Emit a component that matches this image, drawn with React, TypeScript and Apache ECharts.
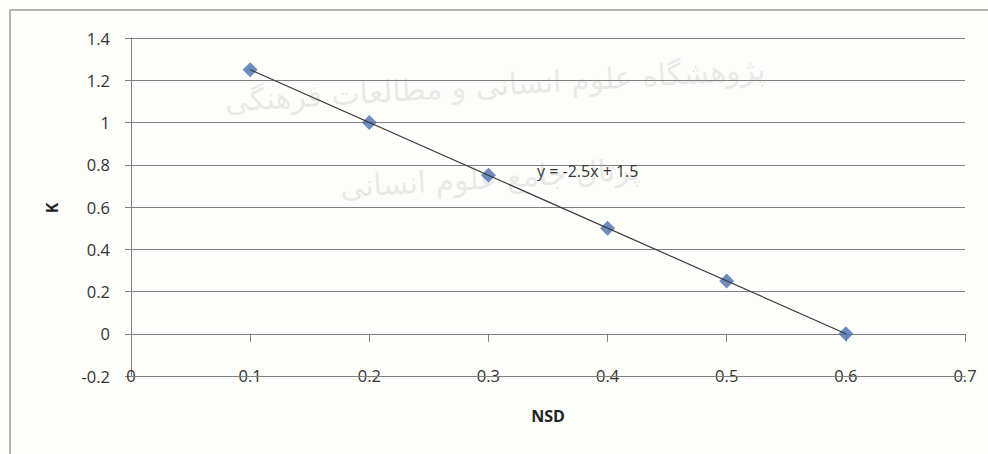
import React, { useEffect, useRef } from "react";
import * as echarts from "echarts";

const nsd = [0.1, 0.2, 0.3, 0.4, 0.5, 0.6];
const kValues = [1.25, 1.0, 0.75, 0.5, 0.25, 0.0];
const xTickLabels = ["0", "0.1", "0.2", "0.3", "0.4", "0.5", "0.6", "0.7"];
const yTickLabels = ["-0.2", "0", "0.2", "0.4", "0.6", "0.8", "1", "1.2", "1.4"];
const equationText = "y = -2.5x + 1.5";
const xTitle = "NSD";
const yTitle = "K";
const watermark1 = "پژوهشگاه علوم انسانی و مطالعات فرهنگی";
const watermark2 = "پرتال جامع علوم انسانی";

function regression(xs: number[], ys: number[]) {
  const n = xs.length;
  const mx = xs.reduce((a, b) => a + b, 0) / n;
  const my = ys.reduce((a, b) => a + b, 0) / n;
  let sxy = 0;
  let sxx = 0;
  for (let i = 0; i < n; i++) {
    sxy += (xs[i] - mx) * (ys[i] - my);
    sxx += (xs[i] - mx) * (xs[i] - mx);
  }
  const slope = sxy / sxx;
  return { slope, intercept: my - slope * mx };
}

export default function App() {
  const ref = useRef<HTMLDivElement>(null);
  useEffect(() => {
    if (!ref.current) return;
    const chart = echarts.init(ref.current, null, { renderer: "svg" });
    const { slope, intercept } = regression(nsd, kValues);
    const xMin = Math.min(...nsd);
    const xMax = Math.max(...nsd);
    const trend = [
      [xMin, slope * xMin + intercept],
      [xMax, slope * xMax + intercept],
    ];
    const font = "'Open Sans', 'Noto Sans', sans-serif";
    const gridColor = "#808080";
    const fmtX = (v: number) => {
      const i = Math.round(v * 10);
      return xTickLabels[i] ?? String(v);
    };
    const fmtY = (v: number) => {
      const i = Math.round((v + 0.2) * 5);
      return yTickLabels[i] ?? String(v);
    };
    chart.setOption({
      animation: false,
      backgroundColor: "#fdfdfb",
      grid: { left: 131, right: 23, top: 38, bottom: 78 },
      xAxis: [
        {
          type: "value",
          min: 0,
          max: 0.7,
          interval: 0.1,
          position: "bottom",
          axisLine: { show: true, onZero: false, lineStyle: { color: gridColor, width: 1 } },
          axisTick: { show: false },
          splitLine: { show: false },
          axisLabel: {
            margin: -9,
            fontSize: 16.5,
            color: "#333",
            fontFamily: font,
            formatter: fmtX,
            showMinLabel: true,
            showMaxLabel: true,
          },
        },
        {
          type: "value",
          min: 0,
          max: 0.7,
          interval: 0.1,
          position: "bottom",
          axisLine: {
            show: true,
            onZero: true,
            lineStyle: { color: gridColor, width: 1 },
          },
          axisTick: {
            show: true,
            length: 8,
            lineStyle: { color: gridColor },
          },
          splitLine: { show: false },
          axisLabel: { show: false },
        },
      ],
      yAxis: {
        type: "value",
        min: -0.2,
        max: 1.4,
        interval: 0.2,
        axisLine: {
          show: true,
          onZero: false,
          lineStyle: { color: gridColor, width: 1 },
        },
        axisTick: { show: true, length: 6, lineStyle: { color: gridColor } },
        splitLine: { show: true, lineStyle: { color: gridColor, width: 1 } },
        axisLabel: {
          margin: 21,
          fontSize: 16.5,
          color: "#333",
          fontFamily: font,
          formatter: fmtY,
        },
      },
      series: [
        {
          type: "scatter",
          xAxisIndex: 0,
          data: nsd.map((x, i) => [x, kValues[i]]),
          symbol: "diamond",
          symbolSize: 15,
          itemStyle: { color: "#4a6fae" },
          z: 3,
          markLine: {
            silent: true,
            symbol: "none",
            label: { show: false },
            lineStyle: { color: gridColor, width: 1, type: "solid" },
            data: [{ yAxis: -0.2 }],
            z: 1,
          },
        },
        {
          type: "line",
          xAxisIndex: 0,
          data: trend,
          symbol: "none",
          lineStyle: { color: "#3a3a3a", width: 1.2 },
          z: 4,
          silent: true,
        },
      ],
      graphic: [
        {
          type: "rect",
          shape: { x: 10, y: 10, width: 1000, height: 500 },
          style: { fill: "none", stroke: "#9a9a9a", lineWidth: 1.5 },
          silent: true,
          z: 0,
        },
        {
          type: "text",
          x: 495,
          y: 85,
          rotation: 0.06,
          style: {
            text: watermark1,
            fontSize: 30,
            fontFamily: "'DejaVu Sans', sans-serif",
            fill: "rgba(150,150,150,0.2)",
            textAlign: "center",
            textVerticalAlign: "middle",
          },
          z: -1,
          silent: true,
        },
        {
          type: "text",
          x: 490,
          y: 178,
          rotation: 0.06,
          style: {
            text: watermark2,
            fontSize: 30,
            fontFamily: "'DejaVu Sans', sans-serif",
            fill: "rgba(150,150,150,0.2)",
            textAlign: "center",
            textVerticalAlign: "middle",
          },
          z: -1,
          silent: true,
        },
        {
          type: "text",
          left: 537,
          top: 163,
          style: {
            text: equationText,
            fontSize: 16,
            fontFamily: font,
            fill: "#333",
          },
          z: 10,
        },
        {
          type: "text",
          x: 548,
          y: 416,
          style: {
            text: xTitle,
            fontSize: 16,
            fontWeight: "bold",
            fontFamily: font,
            fill: "#222",
            textAlign: "center",
            textVerticalAlign: "middle",
          },
          z: 10,
        },
        {
          type: "text",
          x: 52,
          y: 208,
          rotation: Math.PI / 2,
          style: {
            text: yTitle,
            fontSize: 16,
            fontWeight: "bold",
            fontFamily: font,
            fill: "#222",
            textAlign: "center",
            textVerticalAlign: "middle",
          },
          z: 10,
        },
      ],
    });
    return () => chart.dispose();
  }, []);
  return (
    <div
      ref={ref}
      style={{ position: "fixed", left: 0, top: 0, width: 988, height: 454 }}
    />
  );
}
